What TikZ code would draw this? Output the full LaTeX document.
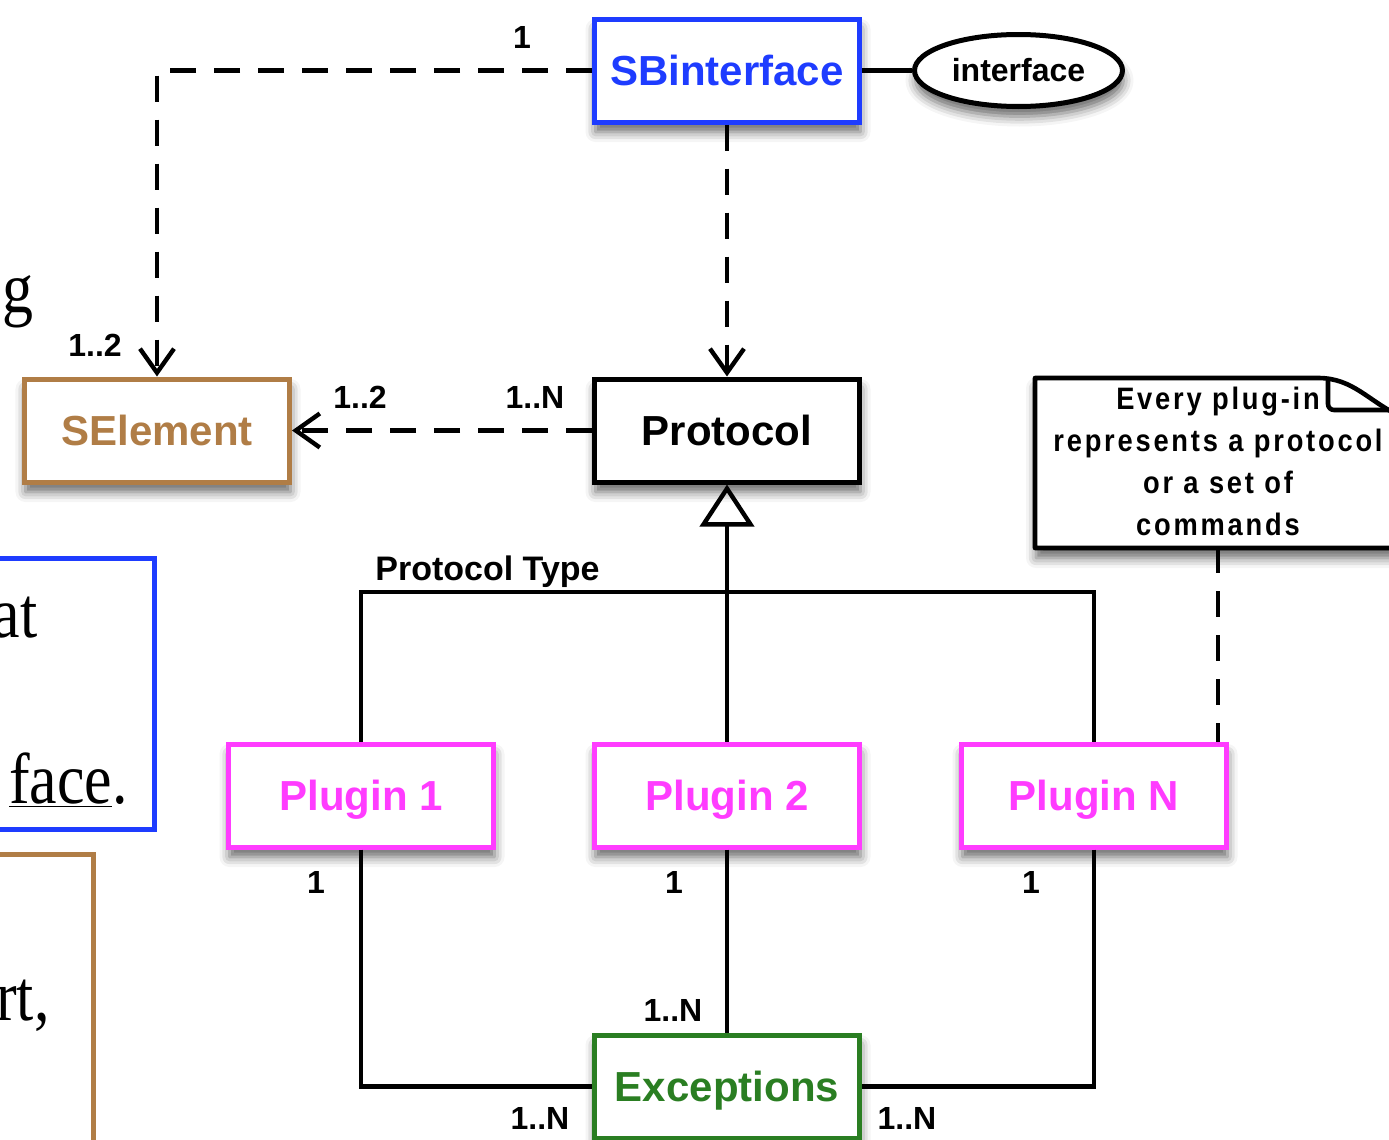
\documentclass[tikz,border=0pt]{standalone}
\usepackage{fontspec}
\usepackage{tikz}
\usetikzlibrary{arrows.meta,positioning,shapes.geometric,shadows.blur}
\newfontfamily\diagfont{Liberation Sans}
\newfontfamily\notefont{Liberation Sans}[FakeStretch=0.88,LetterSpace=9]
\newfontfamily\slidefont{Liberation Serif}[FakeStretch=0.86]
\definecolor{sbblue}{HTML}{1E3CFF}
\definecolor{sbbrown}{HTML}{B07D46}
\definecolor{sbpink}{HTML}{FF3CFF}
\definecolor{sbgreen}{HTML}{2A7E22}
\tikzset{
  umlShadow/.style={blur shadow={shadow xshift=0.5pt, shadow yshift=-5pt, shadow blur radius=5pt, shadow opacity=60}},
  classBox/.style={draw=#1, text=#1, line width=2.5pt, fill=white, minimum width=132.5pt, minimum height=51.5pt, inner sep=0pt, text height=15pt, text depth=0pt, font=\diagfont\bfseries\fontsize{21}{24}\selectfont, umlShadow},
  ifaceOval/.style={ellipse, draw, line width=2.5pt, fill=white, minimum width=104pt, minimum height=36pt, inner sep=0pt, font=\diagfont\bfseries\fontsize{16}{19}\selectfont, umlShadow},
  noteText/.style={align=center, minimum width=183.5pt, minimum height=86pt, inner sep=0pt, font=\notefont\bfseries\fontsize{15.5}{21}\selectfont},
  noteLine/.style={line width=2.3pt, line join=round},
  multLabel/.style={inner sep=0pt, font=\diagfont\bfseries\fontsize{16}{19}\selectfont},
  slideText/.style={inner sep=0pt, font=\slidefont\fontsize{36}{42}\selectfont},
  assocLine/.style={line width=2.2pt},
  dashLine/.style={line width=2.2pt, dash pattern=on 13pt off 9pt},
  dashArrow/.style={dashLine, -{Straight Barb[length=12pt,width=17pt]}},
  genArrow/.style={line width=2.2pt, -{Triangle[open,length=21pt,width=27pt]}}
}
\begin{document}
\begin{tikzpicture}[x=0.5pt, y=-0.5pt]
  \useasboundingbox (0,0) rectangle (1389,1140);
  \clip (0,0) rectangle (1389,1140);

  % slide text behind the diagram
  \draw[sbblue, line width=2.5pt] (-20,558.5) rectangle (154.5,829.5);
  \draw[sbbrown, line width=2.5pt] (-20,854.5) rectangle (93.5,1170);
  \node[slideText, anchor=base east] (gtxt) at (34,312) {g};
  \node[slideText, anchor=base east] (attxt) at (38,637) {at};
  \node[slideText, anchor=base east] (facetxt) at (128,803) {\underline{face}.};
  \node[slideText, anchor=base east] (rttxt) at (50,1020) {rt,};

  % classes
  \node[classBox=sbblue] (sbif) at (727,70.5) {SBinterface};
  \node[ifaceOval, right=25pt of sbif] (iface) {interface};
  \node[classBox=black, below=126pt of sbif] (proto) {Protocol};
  \node[classBox=sbbrown, left=150pt of proto] (selem) {SElement};
  \node[classBox=sbpink, below=128.5pt of proto] (plug2) {Plugin 2};
  \node[classBox=sbpink, left=48pt of plug2] (plug1) {Plugin 1};
  \node[classBox=sbpink, right=48.5pt of plug2] (plugn) {Plugin N};
  \node[classBox=sbgreen, below=91.5pt of plug2] (exc) {Exceptions};

  % note with folded corner
  \draw[noteLine, fill=white, umlShadow] (1035,548) -- (1035,378) -- (1318,378) to[out=0,in=155] (1400,416) -- (1400,548) -- cycle;
  \draw[noteLine, rounded corners=3pt] (1328,380) -- (1328,410) -- (1400,410);
  \node[noteText] (note) at (1218,461) {Every plug-in\\represents a protocol\\or a set of\\commands};

  % connectors
  \coordinate (typebar) at (727,592);
  \draw[assocLine] (sbif.east) -- (iface.west);
  \draw[dashArrow] (sbif.west) -| (selem.north);
  \draw[dashArrow] (sbif.south) -- (proto.north);
  \draw[dashArrow] (proto.west) -- (selem.east);
  \draw[dashLine] (note.south) -- (note.south |- plugn.north);
  \draw[assocLine] (plug1.north) -- (plug1.north |- typebar) -- (plugn.north |- typebar) -- (plugn.north);
  \draw[genArrow] (plug2.north) -- (proto.south);
  \draw[assocLine] (plug1.south) |- (exc.west);
  \draw[assocLine] (plug2.south) -- (exc.north);
  \draw[assocLine] (plugn.south) |- (exc.east);

  % multiplicities
  \node[multLabel] (m1) at (522,37) {1};
  \node[multLabel] (m2) at (95,345) {1..2};
  \node[multLabel] (m3) at (360,397) {1..2};
  \node[multLabel] (m4) at (535,397) {1..N};
  \node[multLabel, anchor=west, font=\diagfont\bfseries\fontsize{17}{20}\selectfont] (ptype) at (375,572) {Protocol Type};
  \node[multLabel] (m5) at (316,882) {1};
  \node[multLabel] (m6) at (674,882) {1};
  \node[multLabel] (m7) at (1031,882) {1};
  \node[multLabel] (m8) at (673,1010) {1..N};
  \node[multLabel] (m9) at (540,1118) {1..N};
  \node[multLabel] (m10) at (907,1118) {1..N};
\end{tikzpicture}
\end{document}
